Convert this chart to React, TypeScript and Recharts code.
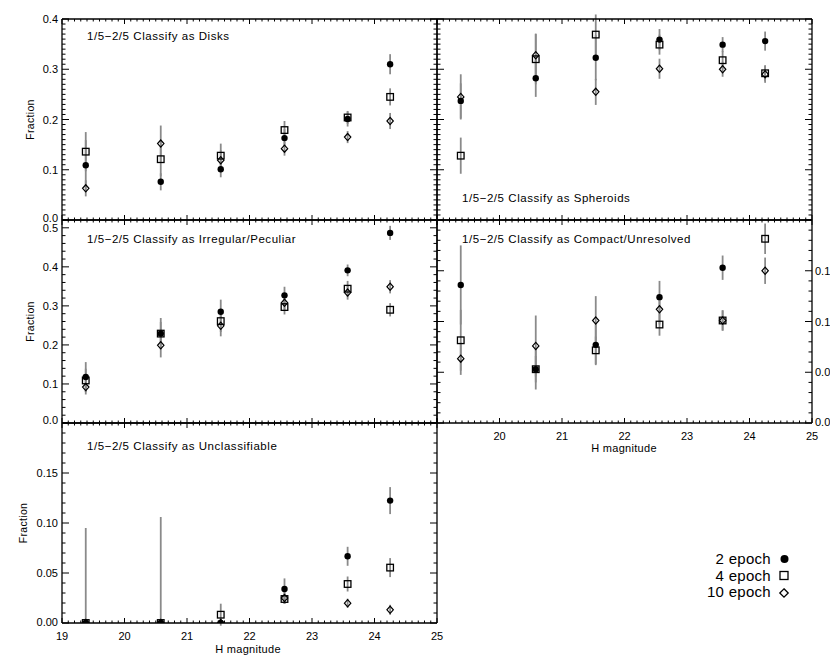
import React from 'react';
import { ScatterChart, Scatter, XAxis, YAxis, ErrorBar } from 'recharts';

const W = 830;
const H = 664;
const FONT = '"Liberation Sans", Arial, Helvetica, sans-serif';
const GRAY = '#8a8a8a';

// ---- data ----
const magnitudes = [19.38, 20.58, 21.54, 22.56, 23.57, 24.25];
const xMajor = [19, 20, 21, 22, 23, 24, 25];
const xLabelsBottom = ['19', '20', '21', '22', '23', '24', '25'];
const xLabelsRight = ['', '20', '21', '22', '23', '24', '25'];

// Disks
const disks2 = [0.109, 0.076, 0.101, 0.163, 0.201, 0.310];
const disks2Err = [0.05, 0.017, 0.016, 0.018, 0.015, 0.02];
const disks4 = [0.136, 0.121, 0.128, 0.179, 0.204, 0.245];
const disks4Err = [0.039, 0.034, 0.024, 0.018, 0.013, 0.017];
const disks10 = [0.063, 0.152, 0.119, 0.142, 0.165, 0.197];
const disks10Err = [0.016, 0.036, 0.02, 0.014, 0.012, 0.016];

// Spheroids
const sph2 = [0.237, 0.282, 0.323, 0.359, 0.349, 0.356];
const sph2Err = [0.035, 0.037, 0.045, 0.021, 0.015, 0.019];
const sph4 = [0.128, 0.320, 0.369, 0.349, 0.318, 0.292];
const sph4Err = [0.036, 0.05, 0.04, 0.02, 0.018, 0.016];
const sph10 = [0.245, 0.328, 0.255, 0.301, 0.300, 0.290];
const sph10Err = [0.045, 0.043, 0.026, 0.02, 0.015, 0.017];

// Irregular / Peculiar
const irr2 = [0.118, 0.229, 0.285, 0.327, 0.391, 0.487];
const irr2Err = [0.038, 0.04, 0.031, 0.022, 0.015, 0.018];
const irr4 = [0.109, 0.229, 0.261, 0.297, 0.344, 0.290];
const irr4Err = [0.03, 0.03, 0.028, 0.019, 0.02, 0.017];
const irr10 = [0.092, 0.199, 0.249, 0.308, 0.334, 0.349];
const irr10Err = [0.019, 0.031, 0.027, 0.02, 0.018, 0.017];

// Compact / Unresolved (the last 2-epoch point lies above the plotted range and is clipped)
const cmp2 = [0.136, 0.053, 0.077, 0.124, 0.153, 0.225];
const cmp2Err: (number | [number, number])[] = [0.039, 0.013, 0.02, 0.016, 0.012, [0, 0]];
const cmp4 = [0.0815, 0.053, 0.0716, 0.097, 0.101, 0.1815];
const cmp4Err = [0.03, 0.02, 0.0136, 0.011, 0.01, 0.015];
const cmp10 = [0.0634, 0.0759, 0.101, 0.112, 0.101, 0.150];
const cmp10Err = [0.016, 0.03, 0.024, 0.015, 0.01, 0.013];

// Unclassifiable
const unc2 = [0, 0, 0, 0.034, 0.0667, 0.1224];
const unc2Err: (number | [number, number])[] = [[0, 0.095], [0, 0.106], [0, 0.004], 0.0106, 0.0095, 0.0135];
const unc4 = [0, 0, 0.0083, 0.024, 0.039, 0.0554];
const unc4Err: (number | [number, number])[] = [[0, 0], [0, 0], 0.011, 0.005, 0.0075, 0.0095];
const unc10 = [0, 0, 0, 0.025, 0.0198, 0.0132];
const unc10Err: (number | [number, number])[] = [[0, 0], [0, 0], [0, 0], 0.006, 0.0045, 0.005];

const yMajor04 = [0, 0.1, 0.2, 0.3, 0.4];
const yLabels04 = ['0.0', '0.1', '0.2', '0.3', '0.4'];
const yMajor05 = [0, 0.1, 0.2, 0.3, 0.4, 0.5];
const yLabels05 = ['0.0', '0.1', '0.2', '0.3', '0.4', '0.5'];
const yMajor02 = [0, 0.05, 0.1, 0.15, 0.2];
const yLabels02 = ['0.00', '0.05', '0.10', '0.15', ''];

const range = (lo: number, hi: number, step: number) => {
  const out: number[] = [];
  const n = Math.round((hi - lo) / step);
  for (let i = 0; i <= n; i++) out.push(Math.round((lo + i * step) * 10000) / 10000);
  return out;
};

const toData = (vals: number[], errs: (number | [number, number])[]) =>
  magnitudes.map((x, i) => ({ x, y: vals[i], e: errs[i] }));

type Rect = { l: number; r: number; t: number; b: number };
type PanelCfg = {
  rect: Rect;
  yDomain: [number, number];
  yMajor: number[];
  yMinorStep: number;
  leftLabels: string[] | null;
  rightLabels: string[] | null;
  bottomLabels: string[] | null;
  zeroDy: number;
  series: { data: any[]; kind: 'circle' | 'square' | 'diamond' }[];
};

const tickFactory = (
  side: 'left' | 'right' | 'top' | 'bottom',
  rect: Rect,
  majors: number[],
  labels: string[] | null,
  zeroDy = 4,
) => (props: any) => {
  const p = props.payload || {};
  const c = p.coordinate;
  const v = p.value;
  const mi = majors.findIndex((m) => Math.abs(m - v) < 1e-6);
  const isMajor = mi >= 0;
  const isX = side === 'top' || side === 'bottom';
  const len = isX ? (isMajor ? 5 : 2.5) : isMajor ? 7 : 3.5;
  const label = isMajor && labels ? labels[mi] : '';
  const dy = mi === 0 ? zeroDy : 4;
  const ts = { fontFamily: FONT, fontSize: 11, fill: '#000' } as any;
  if (side === 'left') {
    return (
      <g>
        <line x1={rect.l} x2={rect.l + len} y1={c} y2={c} stroke="#000" strokeWidth={1} />
        {label ? <text x={rect.l - 4} y={c + dy} textAnchor="end" {...ts}>{label}</text> : null}
      </g>
    );
  }
  if (side === 'right') {
    return (
      <g>
        <line x1={rect.r} x2={rect.r - len} y1={c} y2={c} stroke="#000" strokeWidth={1} />
        {label ? <text x={rect.r + 3} y={c + dy} textAnchor="start" {...ts}>{label}</text> : null}
      </g>
    );
  }
  if (side === 'bottom') {
    return (
      <g>
        <line x1={c} x2={c} y1={rect.b} y2={rect.b - len} stroke="#000" strokeWidth={1} />
        {label ? <text x={c} y={rect.b + 16.5} textAnchor="middle" {...ts}>{label}</text> : null}
      </g>
    );
  }
  return (
    <g>
      <line x1={c} x2={c} y1={rect.t} y2={rect.t + len} stroke="#000" strokeWidth={1} />
    </g>
  );
};

const noShape = () => <g />;
const circleShape = (p: any) => <circle cx={p.cx} cy={p.cy} r={3.2} fill="#000" />;
const squareShape = (p: any) => (
  <rect x={p.cx - 3.3} y={p.cy - 3.3} width={6.6} height={6.6} fill="none" stroke="#000" strokeWidth={1.3} />
);
const diamondShape = (p: any) => (
  <polygon
    points={`${p.cx},${p.cy - 3.6} ${p.cx + 3.2},${p.cy} ${p.cx},${p.cy + 3.6} ${p.cx - 3.2},${p.cy}`}
    fill="none"
    stroke="#000"
    strokeWidth={1.2}
  />
);
const shapes = { circle: circleShape, square: squareShape, diamond: diamondShape };

const xTicks = range(19, 25, 0.1);
const axisLine = { stroke: '#000', strokeWidth: 1.3 };

function Panel({ cfg, id }: { cfg: PanelCfg; id: string }) {
  const { rect } = cfg;
  const yTicks = range(cfg.yDomain[0], cfg.yDomain[1], cfg.yMinorStep);
  return (
    <div style={{ position: 'absolute', left: 0, top: 0 }}>
      <ScatterChart
        width={W}
        height={H}
        margin={{ top: rect.t - 1, left: rect.l - 1, right: W - rect.r - 1, bottom: H - rect.b - 1 }}
      >
        <XAxis
          xAxisId="b"
          dataKey="x"
          type="number"
          orientation="bottom"
          domain={[19, 25]}
          allowDataOverflow
          ticks={xTicks}
          interval={0}
          height={1}
          tickSize={0}
          tickMargin={0}
          tickLine={false}
          axisLine={axisLine}
          tick={tickFactory('bottom', rect, xMajor, cfg.bottomLabels)}
        />
        <XAxis
          xAxisId="t"
          dataKey="x"
          type="number"
          orientation="top"
          domain={[19, 25]}
          allowDataOverflow
          ticks={xTicks}
          interval={0}
          height={1}
          tickSize={0}
          tickMargin={0}
          tickLine={false}
          axisLine={axisLine}
          tick={tickFactory('top', rect, xMajor, null)}
        />
        <YAxis
          yAxisId="l"
          dataKey="y"
          type="number"
          orientation="left"
          domain={cfg.yDomain}
          allowDataOverflow
          ticks={yTicks}
          interval={0}
          width={1}
          tickSize={0}
          tickMargin={0}
          tickLine={false}
          axisLine={axisLine}
          tick={tickFactory('left', rect, cfg.yMajor, cfg.leftLabels, cfg.zeroDy)}
        />
        <YAxis
          yAxisId="r"
          dataKey="y"
          type="number"
          orientation="right"
          domain={cfg.yDomain}
          allowDataOverflow
          ticks={yTicks}
          interval={0}
          width={1}
          tickSize={0}
          tickMargin={0}
          tickLine={false}
          axisLine={axisLine}
          tick={tickFactory('right', rect, cfg.yMajor, cfg.rightLabels, cfg.zeroDy)}
        />
        {cfg.series.map((s, i) => (
          <Scatter
            key={`${id}-e${i}`}
            data={s.data}
            xAxisId="b"
            yAxisId="l"
            isAnimationActive={false}
            shape={noShape}
          >
            <ErrorBar dataKey="e" direction="y" width={0} stroke={GRAY} strokeWidth={1.8} isAnimationActive={false} />
          </Scatter>
        ))}
        {cfg.series.map((s, i) => (
          <Scatter
            key={`${id}-m${i}`}
            data={s.data}
            xAxisId="b"
            yAxisId="l"
            isAnimationActive={false}
            shape={shapes[s.kind]}
          />
        ))}
      </ScatterChart>
    </div>
  );
}

const LEFT: Rect = { l: 62, r: 437, t: 0, b: 0 };
const RIGHT: Rect = { l: 437, r: 812, t: 0, b: 0 };

const panels: { id: string; cfg: PanelCfg; title: string; tx: number; ty: number }[] = [
  {
    id: 'disks',
    title: '1/5\u22122/5 Classify as Disks',
    tx: 87,
    ty: 40,
    cfg: {
      rect: { ...LEFT, t: 19, b: 220 },
      yDomain: [0, 0.4],
      yMajor: yMajor04,
      yMinorStep: 0.01,
      leftLabels: yLabels04,
      rightLabels: null,
      bottomLabels: null,
      zeroDy: 1.5,
      series: [
        { data: toData(disks2, disks2Err), kind: 'circle' },
        { data: toData(disks4, disks4Err), kind: 'square' },
        { data: toData(disks10, disks10Err), kind: 'diamond' },
      ],
    },
  },
  {
    id: 'sph',
    title: '1/5\u22122/5 Classify as Spheroids',
    tx: 462,
    ty: 202,
    cfg: {
      rect: { ...RIGHT, t: 19, b: 220 },
      yDomain: [0, 0.4],
      yMajor: yMajor04,
      yMinorStep: 0.01,
      leftLabels: null,
      rightLabels: null,
      bottomLabels: null,
      zeroDy: 4,
      series: [
        { data: toData(sph2, sph2Err), kind: 'circle' },
        { data: toData(sph4, sph4Err), kind: 'square' },
        { data: toData(sph10, sph10Err), kind: 'diamond' },
      ],
    },
  },
  {
    id: 'irr',
    title: '1/5\u22122/5 Classify as Irregular/Peculiar',
    tx: 87,
    ty: 243,
    cfg: {
      rect: { ...LEFT, t: 220, b: 423 },
      yDomain: [0, 0.52],
      yMajor: yMajor05,
      yMinorStep: 0.02,
      leftLabels: yLabels05,
      rightLabels: null,
      bottomLabels: null,
      zeroDy: 0.5,
      series: [
        { data: toData(irr2, irr2Err), kind: 'circle' },
        { data: toData(irr4, irr4Err), kind: 'square' },
        { data: toData(irr10, irr10Err), kind: 'diamond' },
      ],
    },
  },
  {
    id: 'cmp',
    title: '1/5\u22122/5 Classify as Compact/Unresolved',
    tx: 462,
    ty: 243,
    cfg: {
      rect: { ...RIGHT, t: 220, b: 423 },
      yDomain: [0, 0.2],
      yMajor: yMajor02,
      yMinorStep: 0.01,
      leftLabels: null,
      rightLabels: yLabels02,
      bottomLabels: xLabelsRight,
      zeroDy: 3,
      series: [
        { data: toData(cmp2, cmp2Err), kind: 'circle' },
        { data: toData(cmp4, cmp4Err), kind: 'square' },
        { data: toData(cmp10, cmp10Err), kind: 'diamond' },
      ],
    },
  },
  {
    id: 'unc',
    title: '1/5\u22122/5 Classify as Unclassifiable',
    tx: 87,
    ty: 450,
    cfg: {
      rect: { ...LEFT, t: 423, b: 623 },
      yDomain: [0, 0.2],
      yMajor: yMajor02,
      yMinorStep: 0.01,
      leftLabels: yLabels02,
      rightLabels: null,
      bottomLabels: xLabelsBottom,
      zeroDy: 3,
      series: [
        { data: toData(unc2, unc2Err), kind: 'circle' },
        { data: toData(unc4, unc4Err), kind: 'square' },
        { data: toData(unc10, unc10Err), kind: 'diamond' },
      ],
    },
  },
];

const legendItems = [
  { label: '2 epoch', kind: 'circle', y: 564, cy: 559 },
  { label: '4 epoch', kind: 'square', y: 580.5, cy: 575.5 },
  { label: '10 epoch', kind: 'diamond', y: 597, cy: 593 },
];

export default function App() {
  const titleStyle = { fontFamily: FONT, fontSize: 11.5, letterSpacing: 0.55, fill: '#000' } as any;
  const axStyle = { fontFamily: FONT, fontSize: 10.5, letterSpacing: 0.3, fill: '#000' } as any;
  return (
    <div style={{ position: 'absolute', left: 0, top: 0, width: W, height: H, overflow: 'hidden', background: '#fff' }}>
      {panels.map((p) => (
        <Panel key={p.id} cfg={p.cfg} id={p.id} />
      ))}
      <svg width={W} height={H} style={{ position: 'absolute', left: 0, top: 0, pointerEvents: 'none' }}>
        {panels.map((p) => (
          <text key={p.id} x={p.tx} y={p.ty} {...titleStyle}>{p.title}</text>
        ))}
        <text transform="translate(33.5,119.5) rotate(-90)" textAnchor="middle" {...axStyle}>Fraction</text>
        <text transform="translate(33.5,321.5) rotate(-90)" textAnchor="middle" {...axStyle}>Fraction</text>
        <text transform="translate(26.5,523) rotate(-90)" textAnchor="middle" {...axStyle}>Fraction</text>
        <text x={248} y={653} textAnchor="middle" {...axStyle} fontSize={11}>H magnitude</text>
        <text x={624} y={452} textAnchor="middle" {...axStyle} fontSize={11}>H magnitude</text>
        {legendItems.map((it) => (
          <g key={it.label}>
            <text x={771} y={it.y} textAnchor="end" fontFamily={FONT} fontSize={15} letterSpacing={0.3} fill="#000">
              {it.label}
            </text>
            {it.kind === 'circle' ? (
              <circle cx={784.5} cy={it.cy} r={4} fill="#000" />
            ) : it.kind === 'square' ? (
              <rect x={780} y={it.cy - 4} width={8} height={8} fill="none" stroke="#000" strokeWidth={1.3} />
            ) : (
              <polygon
                points={`784,${it.cy - 4.2} 788.2,${it.cy} 784,${it.cy + 4.2} 779.8,${it.cy}`}
                fill="none"
                stroke="#000"
                strokeWidth={1.3}
              />
            )}
          </g>
        ))}
      </svg>
    </div>
  );
}
